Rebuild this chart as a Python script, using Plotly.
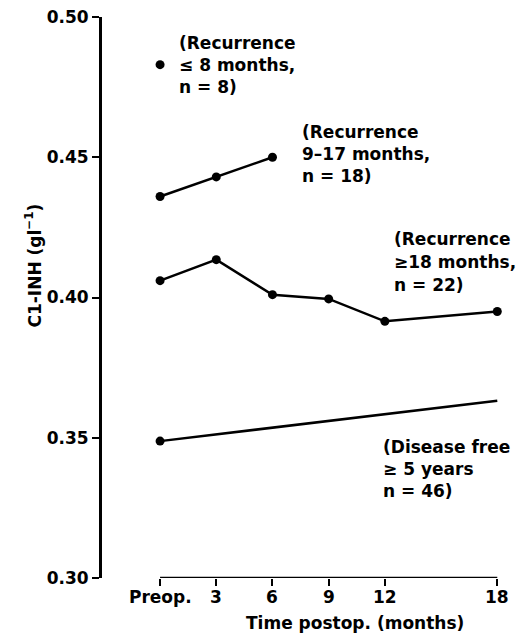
import plotly.graph_objects as go

# ---- data ----
tick_months = [0, 3, 6, 9, 12, 18]
tick_labels = ["Preop.", "3", "6", "9", "12", "18"]
y_ticks = [0.30, 0.35, 0.40, 0.45, 0.50]

rec_le8_x = [0]
rec_le8_y = [0.483]

rec_9_17_x = [0, 3, 6]
rec_9_17_y = [0.436, 0.443, 0.450]

rec_ge18_x = [0, 3, 6, 9, 12, 18]
rec_ge18_y = [0.406, 0.4135, 0.401, 0.3995, 0.3915, 0.395]

free_x = [0, 18]
free_y = [0.3488, 0.3632]

FONT = "DejaVu Sans"
FS = 17
BLACK = "#000000"
TXT = dict(family=FONT, size=FS, color=BLACK, weight="bold")

fig = go.Figure()


def add_series(x, y, mode="lines+markers"):
    fig.add_trace(go.Scatter(
        x=x, y=y, mode=mode,
        line=dict(color=BLACK, width=2.5),
        marker=dict(color=BLACK, size=9, line=dict(width=0)),
        showlegend=False, hoverinfo="skip",
    ))


add_series(rec_le8_x, rec_le8_y, mode="markers")
add_series(rec_9_17_x, rec_9_17_y)
add_series(rec_ge18_x, rec_ge18_y)
add_series(free_x, free_y, mode="lines")
add_series(free_x[:1], free_y[:1], mode="markers")

# x-axis baseline spanning Preop..18 only
fig.add_shape(type="line", xref="x", yref="y",
              x0=tick_months[0], x1=tick_months[-1], y0=0.30, y1=0.30,
              line=dict(color=BLACK, width=2.5))

# x tick labels as annotations (for exact vertical placement)
for tv, tt in zip(tick_months, tick_labels):
    fig.add_annotation(x=tv, xref="x", y=-0.034, yref="paper", text=tt,
                       showarrow=False, xanchor="center", yanchor="middle",
                       font=TXT)

labels = [
    (0.91, [0.4907, 0.4829, 0.4750], ["(Recurrence", "\u2264 8 months,", "n = 8)"]),
    (7.48, [0.4590, 0.4512, 0.4433], ["(Recurrence", "9\u201317 months,", "n = 18)"]),
    (12.39, [0.4209, 0.4127, 0.4045], ["(Recurrence", "\u226518 months,", "n = 22)"]),
    (11.8, [0.3467, 0.3389, 0.3310], ["(Disease free", "\u2265 5 years", "n = 46)"]),
]
for lx, ys, lines in labels:
    for ly, t in zip(ys, lines):
        fig.add_annotation(x=lx, y=ly, xref="x", yref="y", text=t,
                           showarrow=False, xanchor="left", yanchor="middle",
                           font=TXT)

# axis titles
fig.add_annotation(x=10.4, xref="x", y=-0.080, yref="paper",
                   text="Time postop. (months)", showarrow=False,
                   xanchor="center", yanchor="middle", font=TXT)
fig.add_annotation(x=-0.1667, xref="paper", y=0.557, yref="paper",
                   text="C1-INH (gl<sup>\u22121</sup>)", showarrow=False,
                   textangle=-90, xanchor="center", yanchor="middle",
                   font=TXT)

fig.update_layout(
    width=523, height=642,
    margin=dict(l=102, r=7, t=17, b=64),
    paper_bgcolor="white", plot_bgcolor="white",
    font=TXT,
)
fig.update_xaxes(
    range=[-3.1, 19.0], tickvals=tick_months, showticklabels=False,
    showline=False, showgrid=False, zeroline=False,
    ticks="outside", ticklen=7, tickwidth=2, tickcolor=BLACK,
)
fig.update_yaxes(
    range=[0.30, 0.50], tickvals=y_ticks,
    ticktext=[f"{v:.2f}" for v in y_ticks],
    showline=True, linewidth=3, linecolor=BLACK,
    showgrid=False, zeroline=False,
    ticks="outside", ticklen=7, tickwidth=2, tickcolor=BLACK,
    tickfont=TXT,
)

fig.write_html("out.html",
               config={"displayModeBar": False},
               post_script="document.body.style.margin='0px';"
                           "document.body.style.overflow='hidden';")
